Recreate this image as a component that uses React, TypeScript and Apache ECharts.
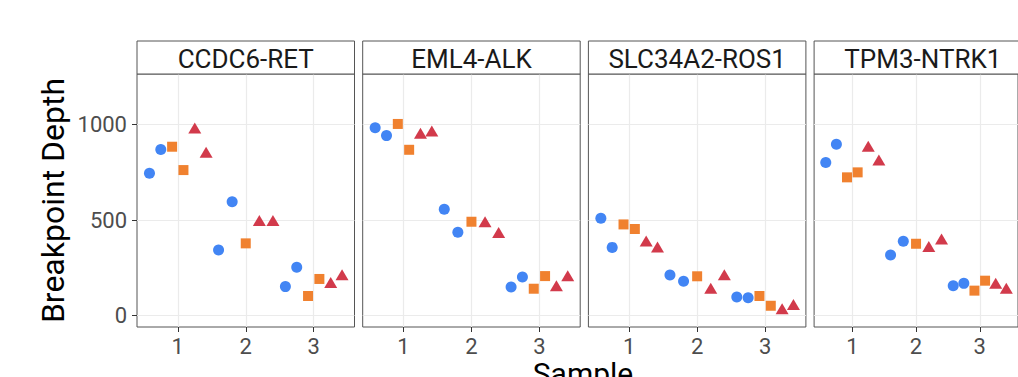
import React, { useEffect, useRef } from "react";
import * as echarts from "echarts";

const fusions = ["CCDC6-RET", "EML4-ALK", "SLC34A2-ROS1", "TPM3-NTRK1"];
const samples = [1, 2, 3];
const xTicks = [1, 2, 3];
const yTicks = [0, 500, 1000];

// Breakpoint depth of each replicate: fusion -> sample -> replicates
const blueDepth = [
  [[744, 869], [343, 596], [152, 253]],
  [[982, 941], [556, 436], [150, 202]],
  [[509, 357], [213, 180], [98, 94]],
  [[801, 896], [317, 389], [157, 169]],
];
const orangeDepth = [
  [[883, 761], [378], [103, 192]],
  [[1002, 867], [491], [141, 207]],
  [[477, 453], [206], [103, 52]],
  [[723, 749], [376], [131, 183]],
];
const redDepth = [
  [[981, 854], [498, 498], [173, 214]],
  [[953, 965], [491, 435], [157, 209]],
  [[390, 359], [143, 214], [37, 59]],
  [[885, 813], [362, 401], [169, 143]],
];

const groups = [
  { data: blueDepth, color: "#4285F4", symbol: "circle", size: 11 },
  { data: orangeDepth, color: "#F0812F", symbol: "rect", size: 10 },
  { data: redDepth, color: "#D23A4B", symbol: "triangle", size: [13, 11] },
];

const FONT = "Roboto, 'Noto Sans', sans-serif";
const LEFT0 = 137;
const STEP = 225.7;
const PW = 217.5;
const PTOP = 74;
const PH = 253;
const STRIP_TOP = 41;

function buildSeries() {
  const series: any[] = [];
  fusions.forEach((_, f) => {
    const pts: any[][] = groups.map(() => []);
    samples.forEach((s, si) => {
      const list: { g: number; v: number }[] = [];
      groups.forEach((grp, g) => {
        grp.data[f][si].forEach((v) => list.push({ g, v }));
      });
      const n = list.length;
      list.forEach((p, i) => {
        const x = s + (i - (n - 1) / 2) / n; // dodge, width 1
        pts[p.g].push([x, p.v]);
      });
    });
    groups.forEach((grp, g) => {
      series.push({
        type: "scatter",
        xAxisIndex: f,
        yAxisIndex: f,
        data: pts[g],
        symbol: grp.symbol,
        symbolSize: grp.size,
        itemStyle: { color: grp.color, opacity: 1 },
        z: 3,
      });
    });
  });
  return series;
}

export default function App() {
  const ref = useRef<HTMLDivElement>(null);
  useEffect(() => {
    if (!ref.current) return;
    const chart = echarts.init(ref.current, null, { renderer: "svg" });
    const grids = fusions.map((_, i) => ({
      left: LEFT0 + i * STEP,
      top: PTOP,
      width: PW,
      height: PH,
      show: true,
      borderColor: "#555",
      borderWidth: 1,
      backgroundColor: "#fff",
    }));
    const xAxes = fusions.map((_, i) => ({
      type: "value",
      gridIndex: i,
      min: 0.4,
      max: 3.6,
      axisLine: { show: false, onZero: false },
      axisTick: {
        show: true,
        length: 5,
        customValues: xTicks,
        lineStyle: { color: "#333", width: 1 },
      },
      axisLabel: {
        customValues: xTicks,
        fontSize: 22,
        color: "#4d4d4d",
        margin: 8,
        fontFamily: FONT,
        formatter: (v: number) => String(v),
      },
      splitLine: { show: true, lineStyle: { color: "#ebebeb", width: 1.2 } },
    }));
    const yAxes = fusions.map((_, i) => ({
      type: "value",
      gridIndex: i,
      min: -59,
      max: 1263,
      axisLine: { show: false, onZero: false },
      axisTick: {
        show: i === 0,
        length: 5,
        customValues: yTicks,
        lineStyle: { color: "#333", width: 1 },
      },
      axisLabel: {
        show: i === 0,
        customValues: yTicks,
        fontSize: 22,
        color: "#4d4d4d",
        margin: 10,
        fontFamily: FONT,
        formatter: (v: number) => String(v),
      },
      splitLine: { show: true, lineStyle: { color: "#ebebeb", width: 1.2 } },
    }));
    const graphics: any[] = [];
    fusions.forEach((name, i) => {
      const x = LEFT0 + i * STEP;
      graphics.push({
        type: "rect",
        shape: { x, y: STRIP_TOP, width: PW, height: PTOP - STRIP_TOP },
        style: { fill: "#fff", stroke: "#555", lineWidth: 1 },
        z: 10,
      });
      graphics.push({
        type: "text",
        x: x + PW / 2,
        y: (STRIP_TOP + PTOP) / 2 + 1,
        style: {
          text: name,
          fontSize: 26,
          fontFamily: FONT,
          fill: "#1a1a1a",
          textAlign: "center",
          textVerticalAlign: "middle",
        },
        z: 11,
      });
    });
    graphics.push({
      type: "text",
      x: 53,
      y: PTOP + PH / 2,
      rotation: Math.PI / 2,
      style: {
        text: "Breakpoint Depth",
        fontSize: 32,
        fontFamily: FONT,
        fill: "#000",
        textAlign: "center",
        textVerticalAlign: "middle",
      },
    });
    graphics.push({
      type: "text",
      x: 583,
      y: 373,
      style: {
        text: "Sample",
        fontSize: 30,
        fontFamily: FONT,
        fill: "#000",
        textAlign: "center",
        textVerticalAlign: "middle",
      },
    });
    chart.setOption({
      animation: false,
      backgroundColor: "#fff",
      grid: grids,
      xAxis: xAxes,
      yAxis: yAxes,
      series: buildSeries(),
      graphic: graphics,
    });
    return () => chart.dispose();
  }, []);
  return (
    <div
      ref={ref}
      style={{ position: "absolute", left: 0, top: 0, width: 1018, height: 377 }}
    />
  );
}
